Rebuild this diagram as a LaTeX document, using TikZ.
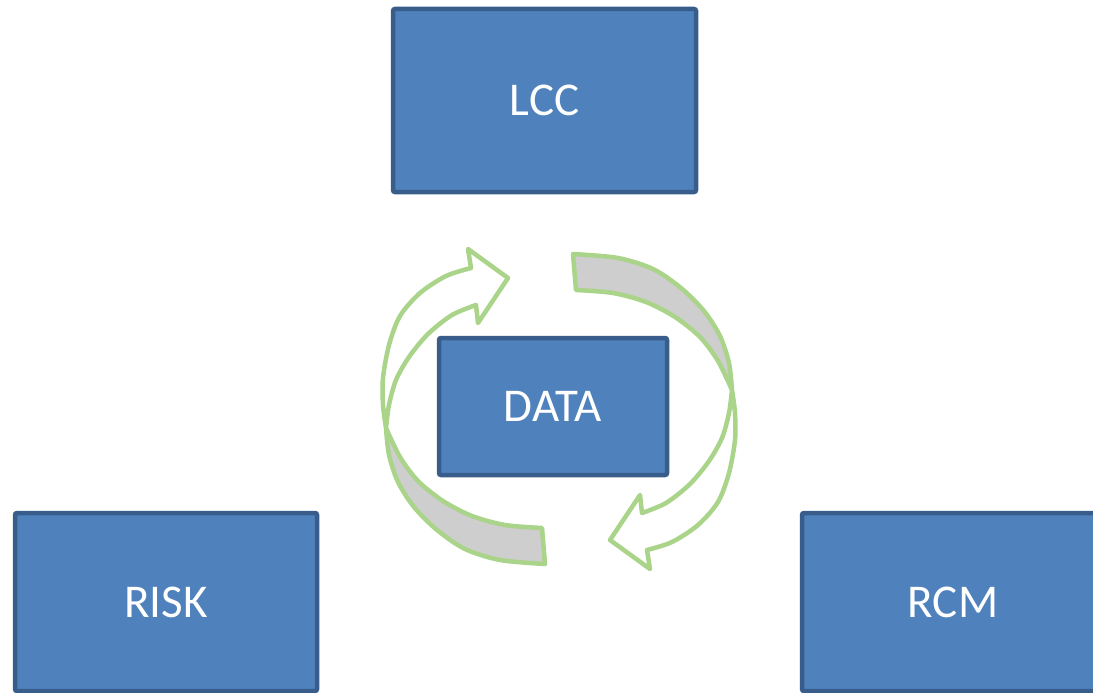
\documentclass[tikz,border=0pt]{standalone}
\usepackage{fontspec}
\setmainfont{Carlito}
\definecolor{boxfill}{RGB}{79,129,189}
\definecolor{boxline}{RGB}{56,93,138}
\definecolor{arrowgreen}{RGB}{170,212,137}
\definecolor{backgray}{RGB}{206,206,206}
\tikzset{
  block/.style={rectangle, draw=boxline, fill=boxfill, line width=4.5pt, rounded corners=2pt,
    text=white, font=\fontsize{47}{50}\selectfont, inner sep=0pt, outer sep=0pt},
  arrowline/.style={draw=arrowgreen, line width=4.5pt, line join=round}
}
\begin{document}
\begin{tikzpicture}[x=1pt,y=-1pt]
\path[use as bounding box, clip] (0,0) rectangle (1093,693);
\node[block, minimum width=303pt, minimum height=183pt] (lcc) at (544.5,100.5) {\raisebox{-1.5pt}{LCC}};
\node[block, minimum width=228pt, minimum height=137pt] (data) at (553,406.5) {\raisebox{-1.5pt}{DATA}};
\node[block, minimum width=302pt, minimum height=178pt] (risk) at (166,602) {\raisebox{-4pt}{RISK}};
\node[block, minimum width=302pt, minimum height=178pt] (rcm) at (953,602) {\raisebox{-4pt}{RCM}};
\foreach \ang in {0,180}{
\begin{scope}[rotate around={\ang:(559,409)}]
  % front (white) part with arrow head
  \draw[arrowline, fill=white] (386,428)
    -- plot[smooth] coordinates {(386,428) (383,405) (383,378) (389,345) (400,316) (420,293) (446,276) (471,268)}
    -- (468,249) -- (508,278) -- (478,323) -- (476,305)
    -- plot[smooth] coordinates {(476,305) (452,315) (428,334) (409,357) (396,380) (389,405) (386,428)}
    -- cycle;
  % back (gray) part at the tail
  \draw[arrowline, fill=backgray] (386,428)
    -- plot[smooth] coordinates {(386,428) (389,455) (398,482) (414,507) (437,530) (465,549) (500,560) (545,564)}
    -- (542,528)
    -- plot[smooth] coordinates {(542,528) (505,525) (472,516) (443,501) (418,481) (400,457) (386,428)}
    -- cycle;
\end{scope}}
\end{tikzpicture}
\end{document}
